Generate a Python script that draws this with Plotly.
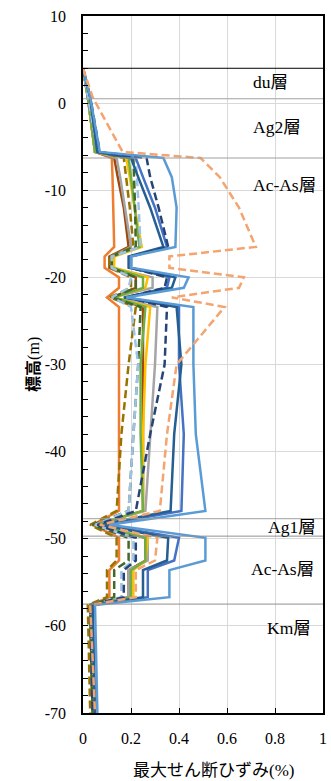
import plotly.graph_objects as go

# Elevation (m) at which each profile is sampled
depth = [4.0, 0.7, -5.6, -6.3, -8.5, -12.0, -16.5, -17.6, -18.9, -20.0, -21.2, -22.3,
         -23.4, -30.0, -38.0, -46.8, -48.4, -49.9, -52.5, -53.6, -56.7, -57.6, -70.0]

# Maximum shear strain (%) for each case
s_orange = [0.00, 0.02, 0.05, 0.12, 0.123, 0.127, 0.13, 0.09, 0.09, 0.15, 0.15, 0.10,
            0.15, 0.15, 0.15, 0.15, 0.04, 0.15, 0.15, 0.11, 0.11, 0.03, 0.04]
s_brown = [0.00, 0.02, 0.05, 0.13, 0.145, 0.17, 0.19, 0.11, 0.11, 0.22, 0.22, 0.12,
           0.25, 0.25, 0.25, 0.25, 0.05, 0.26, 0.26, 0.19, 0.19, 0.03, 0.04]
s_gray = [0.00, 0.02, 0.05, 0.14, 0.155, 0.175, 0.20, 0.12, 0.12, 0.29, 0.29, 0.12,
          0.31, 0.30, 0.28, 0.26, 0.05, 0.27, 0.27, 0.19, 0.19, 0.03, 0.04]
s_gold = [0.00, 0.02, 0.05, 0.18, 0.195, 0.215, 0.245, 0.13, 0.13, 0.27, 0.26, 0.13,
          0.28, 0.26, 0.25, 0.25, 0.05, 0.27, 0.26, 0.21, 0.21, 0.03, 0.04]
s_green = [0.00, 0.02, 0.05, 0.19, 0.20, 0.215, 0.235, 0.12, 0.12, 0.25, 0.25, 0.13,
           0.26, 0.24, 0.24, 0.25, 0.05, 0.26, 0.26, 0.20, 0.20, 0.03, 0.04]
s_olive_d = [0.00, 0.02, 0.06, 0.17, 0.18, 0.195, 0.21, 0.11, 0.11, 0.20, 0.20, 0.11,
             0.22, 0.19, 0.16, 0.14, 0.03, 0.14, 0.14, 0.10, 0.10, 0.02, 0.03]
s_dkgreen_d = [0.00, 0.02, 0.06, 0.21, 0.213, 0.217, 0.22, 0.12, 0.12, 0.22, 0.22, 0.12,
               0.24, 0.23, 0.21, 0.19, 0.04, 0.19, 0.19, 0.13, 0.13, 0.03, 0.04]
s_ltblue_d = [0.00, 0.02, 0.06, 0.22, 0.225, 0.232, 0.24, 0.12, 0.12, 0.20, 0.19, 0.12,
              0.20, 0.23, 0.21, 0.19, 0.05, 0.21, 0.21, 0.16, 0.16, 0.03, 0.05]
s_blue = [0.00, 0.03, 0.06, 0.22, 0.25, 0.30, 0.35, 0.20, 0.20, 0.36, 0.35, 0.18,
          0.40, 0.40, 0.42, 0.41, 0.08, 0.40, 0.38, 0.27, 0.27, 0.04, 0.05]
s_dkblue = [0.00, 0.03, 0.06, 0.20, 0.23, 0.28, 0.335, 0.19, 0.19, 0.385, 0.37, 0.17,
            0.39, 0.41, 0.38, 0.365, 0.07, 0.355, 0.35, 0.25, 0.25, 0.04, 0.05]
s_navy_d = [0.00, 0.03, 0.07, 0.265, 0.28, 0.315, 0.355, 0.20, 0.20, 0.35, 0.34, 0.18,
            0.35, 0.34, 0.28, 0.22, 0.06, 0.22, 0.22, 0.17, 0.17, 0.03, 0.04]
s_ltblue = [0.00, 0.03, 0.07, 0.335, 0.37, 0.39, 0.385, 0.20, 0.20, 0.44, 0.42, 0.18,
            0.46, 0.46, 0.47, 0.51, 0.11, 0.51, 0.51, 0.36, 0.36, 0.05, 0.06]
s_orange_d = [0.00, 0.04, 0.165, 0.49, 0.57, 0.65, 0.72, 0.36, 0.36, 0.67, 0.65, 0.37,
              0.59, 0.39, 0.35, 0.32, 0.07, 0.31, 0.30, 0.22, 0.22, 0.03, 0.05]

# Axis ticks
y_tick_vals = [10, 0, -10, -20, -30, -40, -50, -60, -70]
y_tick_text = ["10", "0", "-10", "-20", "-30", "-40", "-50", "-60", "-70"]
x_tick_vals = [0, 0.2, 0.4, 0.6, 0.8, 1.0]
x_tick_text = ["0", "0.2", "0.4", "0.6", "0.8", "1"]

# Layer boundaries and labels
boundary_elev = [4.0, 0.5, -6.3, -47.7, -49.7, -57.5]
boundary_color = ["#000000", "#A0A0A0", "#A0A0A0", "#A0A0A0", "#909090", "#909090"]
layer_names = ["du層", "Ag2層", "Ac-As層", "Ag1層", "Ac-As層", "Km層"]
layer_label_elev = [2.4, -2.7, -9.4, -48.6, -53.5, -60.2]
layer_label_x = [0.78, 0.81, 0.84, 0.87, 0.83, 0.86]

series = [
    (s_orange, "#ED7D31", "solid"),
    (s_brown, "#9E480E", "solid"),
    (s_gray, "#A5A5A5", "solid"),
    (s_gold, "#FFC000", "solid"),
    (s_green, "#70AD47", "solid"),
    (s_olive_d, "#997300", "8px,4px"),
    (s_dkgreen_d, "#43682B", "8px,4px"),
    (s_ltblue_d, "#9DC3E6", "8px,4px"),
    (s_blue, "#4472C4", "solid"),
    (s_dkblue, "#255E91", "solid"),
    (s_navy_d, "#264478", "8px,4px"),
    (s_ltblue, "#5B9BD5", "solid"),
    (s_orange_d, "#F4A46E", "8px,4px"),
]

SERIF = "Liberation Serif, Times New Roman, serif"

fig = go.Figure()
for xs, color, dash in series:
    fig.add_trace(go.Scatter(x=xs, y=depth, mode="lines",
                             line=dict(color=color, width=2.5, dash=dash),
                             showlegend=False, hoverinfo="skip"))

for yb, c in zip(boundary_elev, boundary_color):
    fig.add_shape(type="line", xref="paper", yref="y", x0=0, x1=1, y0=yb, y1=yb,
                  line=dict(color=c, width=1))

for name, ye, xe in zip(layer_names, layer_label_elev, layer_label_x):
    fig.add_annotation(x=xe, y=ye, xref="x", yref="y", text=name, showarrow=False,
                       xanchor="center", yanchor="middle",
                       font=dict(family="Liberation Serif, Noto Sans CJK JP", size=17.5,
                                 color="#000"))

fig.add_annotation(
    x=0.545, y=-0.079, xref="paper", yref="paper", showarrow=False,
    text='最大せん断ひずみ<span style="font-family:Liberation Serif">(%)</span>',
    font=dict(family="Noto Sans CJK JP", size=17, color="#000"),
    xanchor="center", yanchor="middle")
fig.add_annotation(
    x=-0.215, y=0.5, xref="paper", yref="paper", showarrow=False,
    text='<b>標高</b><span style="font-family:Liberation Serif">(m)</span>', textangle=-90,
    font=dict(family="Noto Sans CJK JP", size=16, color="#000"),
    xanchor="center", yanchor="middle")

axis_font = dict(family=SERIF, size=16, color="#000")
fig.update_xaxes(range=[0, 1], tickmode="array", tickvals=x_tick_vals, ticktext=x_tick_text,
                 showgrid=True, gridcolor="#D9D9D9",
                 gridwidth=1, zeroline=False, showline=True, linecolor="#000",
                 linewidth=1.5, mirror=True, ticks="inside", ticklen=5, tickcolor="#000",
                 tickfont=axis_font, ticklabelstandoff=10)
fig.update_yaxes(range=[-70, 10], tickmode="array", tickvals=y_tick_vals, ticktext=y_tick_text,
                 showgrid=True, gridcolor="#D9D9D9",
                 gridwidth=1, zeroline=False, showline=True, linecolor="#000",
                 linewidth=1.5, mirror=True, ticks="inside", ticklen=5, tickcolor="#000",
                 tickfont=axis_font, ticklabelstandoff=12,
                 minor=dict(dtick=2, tick0=0, ticks="inside", ticklen=5, tickcolor="#000",
                            showgrid=False))

fig.update_layout(width=331, height=781, margin=dict(l=83, r=4, t=16, b=68),
                  plot_bgcolor="#FFFFFF", paper_bgcolor="#FFFFFF", showlegend=False)

fig.write_html("out.html", config={"displayModeBar": False},
               post_script="document.body.style.margin='0';")
